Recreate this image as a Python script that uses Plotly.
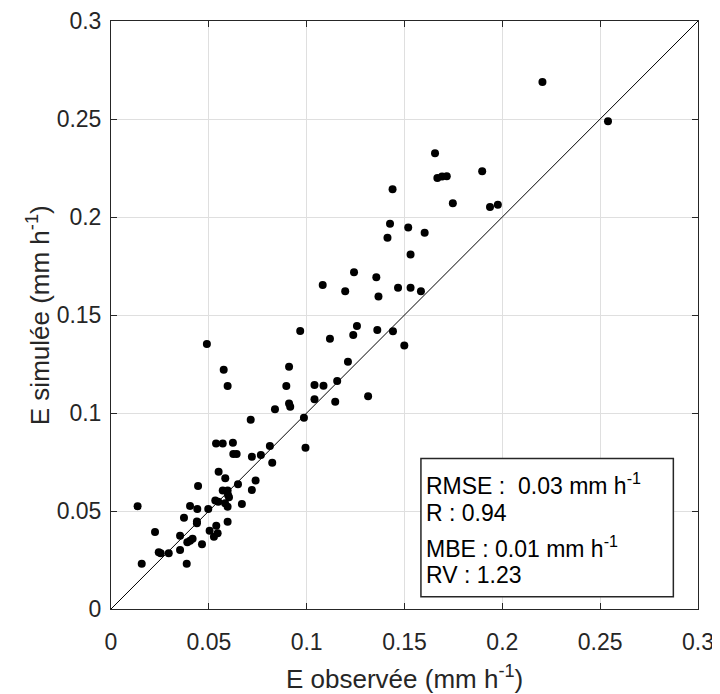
import plotly.graph_objects as go

e_obs = [0.0596, 0.0838, 0.0714, 0.0537, 0.0571, 0.0623, 0.0625, 0.0642, 0.0720, 0.0766,
         0.0812, 0.0824, 0.0550, 0.0584, 0.0445, 0.0649, 0.0739, 0.0720, 0.0571, 0.0596,
         0.0598, 0.0603, 0.0533, 0.0548, 0.0583, 0.0596, 0.0669, 0.0404, 0.0441, 0.0497,
         0.0136, 0.0373, 0.0439, 0.0439, 0.0538, 0.0596, 0.0504, 0.0545, 0.0526, 0.0225,
         0.0353, 0.0417, 0.0404, 0.0390, 0.0465, 0.0244, 0.0254, 0.0295, 0.0353, 0.0157,
         0.0387,
         0.1082, 0.0490, 0.0967, 0.1119, 0.0576, 0.0910, 0.0896, 0.1040, 0.1086, 0.1156,
         0.1040, 0.1146, 0.0910, 0.0916, 0.0986,
         0.2205, 0.1656, 0.1668, 0.1692, 0.1716, 0.1897, 0.1439, 0.1747, 0.1937, 0.1977,
         0.1426, 0.1413, 0.1519, 0.1603, 0.1531, 0.1242, 0.1356, 0.1197, 0.1367, 0.1467,
         0.1531, 0.1584, 0.2540,
         0.1257, 0.1238, 0.1361, 0.1441, 0.1499, 0.1211, 0.1314, 0.0994]
e_sim = [0.1138, 0.1019, 0.0965, 0.0845, 0.0845, 0.0848, 0.0791, 0.0791, 0.0777, 0.0786,
         0.0832, 0.0746, 0.0700, 0.0667, 0.0628, 0.0636, 0.0655, 0.0607, 0.0604, 0.0604,
         0.0582, 0.0570, 0.0553, 0.0547, 0.0539, 0.0522, 0.0536, 0.0526, 0.0510, 0.0510,
         0.0524, 0.0466, 0.0447, 0.0437, 0.0425, 0.0445, 0.0399, 0.0386, 0.0369, 0.0393,
         0.0374, 0.0359, 0.0348, 0.0340, 0.0330, 0.0289, 0.0284, 0.0284, 0.0301, 0.0231,
         0.0231,
         0.1653, 0.1352, 0.1418, 0.1379, 0.1221, 0.1236, 0.1138, 0.1143, 0.1139, 0.1163,
         0.1070, 0.1058, 0.1048, 0.1032, 0.0976,
         0.2689, 0.2325, 0.2199, 0.2206, 0.2208, 0.2233, 0.2142, 0.2070, 0.2051, 0.2063,
         0.1966, 0.1894, 0.1946, 0.1920, 0.1809, 0.1718, 0.1693, 0.1621, 0.1594, 0.1639,
         0.1639, 0.1621, 0.2488,
         0.1444, 0.1398, 0.1423, 0.1417, 0.1345, 0.1262, 0.1085, 0.0823]

line_11 = [0, 0.3]
ticks = [0, 0.05, 0.1, 0.15, 0.2, 0.25, 0.3]
tick_text = ['0', '0.05', '0.1', '0.15', '0.2', '0.25', '0.3']
stats = ['RMSE :\u00a0\u00a00.03 mm h<sup>-1</sup>', 'R : 0.94',
         'MBE : 0.01 mm h<sup>-1</sup>', 'RV : 1.23']

font = 'Liberation Sans, Arial, sans-serif'
dark = '#262626'

fig = go.Figure()
fig.add_trace(go.Scatter(x=line_11, y=line_11, mode='lines',
                         line=dict(color='black', width=1), showlegend=False))
fig.add_trace(go.Scatter(x=e_obs, y=e_sim, mode='markers',
                         marker=dict(color='black', size=8), showlegend=False))

axis = dict(range=[0, 0.3], tickvals=ticks, ticktext=tick_text, showgrid=True,
            gridcolor='#dfdfdf', gridwidth=1, zeroline=False, showline=True,
            linecolor=dark, linewidth=1, mirror='ticks', ticks='inside', ticklen=6,
            tickcolor=dark, automargin=False,
            tickfont=dict(size=23, color=dark, family=font))
fig.update_xaxes(**axis, ticklabelstandoff=12)
fig.update_yaxes(**axis, ticklabelstandoff=4)

# axis titles
fig.add_annotation(text='E observée (mm h<sup>-1</sup>)', xref='paper', yref='paper',
                   x=0.5, y=-0.116, xanchor='center', yanchor='middle', showarrow=False,
                   font=dict(size=26, color=dark, family=font))
fig.add_annotation(text='E simulée (mm h<sup>-1</sup>)', xref='paper', yref='paper',
                   x=-0.124, y=0.5, xanchor='center', yanchor='middle', showarrow=False,
                   textangle=-90, font=dict(size=26, color=dark, family=font))

# stats box
fig.add_shape(type='rect', xref='paper', yref='paper', x0=0.528, x1=0.958, y0=0.021, y1=0.256,
              line=dict(color=dark, width=1.5), fillcolor='white', layer='above')
for txt, yy in zip(stats, [0.213, 0.164, 0.106, 0.058]):
    fig.add_annotation(text=txt, xref='paper', yref='paper', x=0.533, y=yy,
                       xanchor='left', yanchor='middle', showarrow=False,
                       font=dict(size=23, color='black', family=font))

# page body has an 8px margin, so the figure is 8px smaller than the window
fig.update_layout(width=712, height=686, margin=dict(l=103, r=22, t=13, b=85),
                  plot_bgcolor='white', paper_bgcolor='white')
fig.write_html('out.html')
